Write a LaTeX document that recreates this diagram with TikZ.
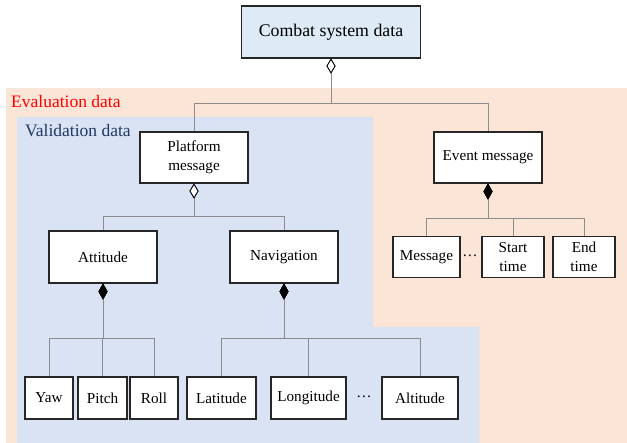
\documentclass[tikz,border=0pt]{standalone}
\usepackage{fontspec}
\setmainfont{Liberation Serif}
\usetikzlibrary{arrows.meta, calc, positioning}
\definecolor{evalbg}{HTML}{FBE5D6}
\definecolor{valbg}{HTML}{DAE3F3}
\definecolor{topbg}{HTML}{DEEBF7}
\definecolor{valtext}{HTML}{1F3864}
\definecolor{conn}{HTML}{8C8C8C}
\definecolor{edge}{HTML}{262626}

\begin{document}
\begin{tikzpicture}[x=1pt, y=-1pt,
	box/.style={draw=edge, line width=1.1pt, fill=white, inner sep=0pt, align=center,
		font=\fontsize{15.2}{19.5}\selectfont},
	link/.style={draw=conn, line width=0.8pt},
	agg/.style={link, {Diamond[length=15pt, width=9pt, color=black, fill=white]}-},
	comp/.style={link, {Diamond[length=16pt, width=9pt, color=black, fill=black]}-},
	lbl/.style={anchor=base west, inner sep=0pt, font=\fontsize{17.5}{20}\selectfont},
	dotsnode/.style={inner sep=0pt, font=\fontsize{15.2}{19.5}\selectfont}
	]
	\useasboundingbox (0, 0) rectangle (627, 443);
	
	% background regions
	\fill[evalbg] (6, 88) rectangle (627, 443);
	\fill[valbg] (17, 117) -- (373, 117) -- (373, 327) -- (479, 327) -- (479, 443) -- (17, 443) -- cycle;
	\node[lbl, text=red] (evallbl) at (11, 108) {Evaluation data};
	\node[lbl, text=valtext] (vallbl) at (25, 137) {Validation data};
	
	% top level
	\node[box, fill=topbg, minimum width=179, minimum height=52,
		font=\fontsize{17.8}{20}\selectfont] (combat) at (331, 32) {Combat system data};
	\node[box, minimum width=108, minimum height=51] (platform) at (194, 157.5) {Platform\\message};
	\node[box, minimum width=108, minimum height=51] (event) at (488, 157.5) {Event message};
	
	% second level
	\node[box, minimum width=108, minimum height=52] (attitude) at (103, 257) {Attitude};
	\node[box, minimum width=108, minimum height=52] (navigation) at (284, 257) {Navigation};
	
	% event fields
	\node[box, minimum width=67, minimum height=41] (message) at (426.5, 257) {Message};
	\node[box, minimum width=62, minimum height=41] (start) at (513, 257) {Start\\time};
	\node[box, minimum width=62, minimum height=41] (end) at (584, 257) {End\\time};
	\node[dotsnode] (edots) at (470, 256) {\dots};
	
	% leaves
	\node[box, minimum width=48, minimum height=42] (yaw) at (49, 398) {Yaw};
	\node[box, minimum width=49, minimum height=42] (pitch) at (102.5, 398) {Pitch};
	\node[box, minimum width=48, minimum height=42] (roll) at (154, 398) {Roll};
	\node[box, minimum width=69, minimum height=42] (latitude) at (221.5, 398) {Latitude};
	\node[box, minimum width=75, minimum height=42] (longitude) at (308.5, 398) {Longitude};
	\node[box, minimum width=76, minimum height=42] (altitude) at (420, 398) {Altitude};
	\node[dotsnode] (ndots) at (364, 397) {\dots};
	
	% connectors
	\foreach \c in {platform, event}
		\draw[agg] (combat.south) -- ++(0, 45) -| (\c.north);
	\foreach \c in {attitude, navigation}
		\draw[agg] (platform.south) -- ++(0, 33) -| (\c.north);
	\foreach \c in {yaw, pitch, roll}
		\draw[comp] (attitude.south) -- ++(0, 55) -| (\c.north);
	\foreach \c in {latitude, longitude, altitude}
		\draw[comp] (navigation.south) -- ++(0, 55) -| (\c.north);
	\foreach \c in {message, start, end}
		\draw[comp] (event.south) -- ++(0, 35) -| (\c.north);
\end{tikzpicture}
\end{document}
